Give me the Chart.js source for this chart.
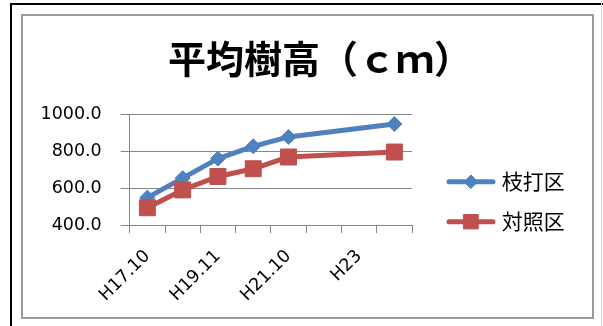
<!DOCTYPE html>
<html>
<head>
<meta charset="utf-8">
<script src="https://cdn.jsdelivr.net/npm/chart.js@4.4.1/dist/chart.umd.min.js"></script>
<style>
  html, body { margin: 0; padding: 0; background: #fff; width: 603px; height: 326px; overflow: hidden; }
  #frame { position: absolute; left: 10px; top: 3px; width: 700px; height: 400px; border: 2px solid #000; }
  #panel { position: absolute; left: 21px; top: 14px; width: 573px; height: 305px; border: 2px solid #9a9a9a; box-sizing: border-box; }
  #edge { position: absolute; left: 601px; top: 0; width: 1px; height: 326px; background: #d4d4d4; }
  #c { position: absolute; left: 0; top: 0; }
</style>
</head>
<body>
<div id="frame"></div>
<div id="panel"></div>
<div id="edge"></div>
<canvas id="c" width="603" height="326" style="width:603px;height:326px"></canvas>
<script>
// Survey dates (category axis; unlabeled slots keep the spacing)
const categories = ['H17.10', '', 'H19.11', '', 'H21.10', '', 'H23', ''];
const seriesNames = ['枝打区', '対照区'];
// Mean tree height (cm)
const prunedPlot  = [549, 655, 761, 828, 879, null, null, 949];
const controlPlot = [494, 591, 664, 706, 770, null, null, 797];
const yTickValues = [400, 600, 800, 1000];
const chartTitle = '平均樹高（ｃｍ）';

const BLUE = '#4F81BD';
const RED = '#C0504D';
const AXIS = '#868686';
const LABEL_FONT = { family: 'DejaVu Sans', size: 17.5 };
const KEY_FONT = '21px "Noto Sans CJK JP"';

const datasets = [
  {
    label: seriesNames[0], data: prunedPlot, order: 1,
    borderColor: BLUE, backgroundColor: BLUE, borderWidth: 5,
    pointStyle: 'rectRot', pointRadius: 7.5, pointBackgroundColor: BLUE, pointBorderColor: BLUE, pointBorderWidth: 1
  },
  {
    label: seriesNames[1], data: controlPlot, order: 0,
    borderColor: RED, backgroundColor: RED, borderWidth: 5,
    pointStyle: 'rect', pointRadius: 11.3, pointBackgroundColor: RED, pointBorderColor: RED, pointBorderWidth: 1
  }
];

// Series key to the right of the plot: line segment, marker, name
const seriesKey = {
  id: 'seriesKey',
  afterDraw(chart, args, opts) {
    const ctx = chart.ctx;
    const area = chart.chartArea;
    chart.data.datasets.forEach((ds, i) => {
      const x = area.right + opts.left;
      const y = area.top + opts.top + i * opts.spacing;
      ctx.save();
      ctx.strokeStyle = ds.borderColor;
      ctx.lineWidth = ds.borderWidth;
      ctx.lineCap = 'round';
      ctx.beginPath();
      ctx.moveTo(x, y);
      ctx.lineTo(x + opts.lineLength, y);
      ctx.stroke();
      ctx.fillStyle = ds.pointBackgroundColor;
      ctx.strokeStyle = ds.pointBorderColor;
      ctx.lineWidth = 1;
      Chart.helpers.drawPoint(ctx, { pointStyle: ds.pointStyle, radius: ds.pointRadius * 0.9, rotation: 0, borderWidth: 1 },
        x + opts.lineLength / 2, y);
      ctx.fillStyle = '#000';
      ctx.font = KEY_FONT;
      ctx.textAlign = 'left';
      ctx.textBaseline = 'middle';
      ctx.fillText(ds.label, x + opts.lineLength + opts.gap, y - 1);
      ctx.restore();
    });
  }
};

// Center the title over the whole panel rather than over the plot column
const titleSpan = {
  id: 'titleSpan',
  afterLayout(chart, args, opts) {
    const t = chart.titleBlock;
    if (!t) return;
    t.left = opts.center - opts.half;
    t.right = opts.center + opts.half;
    t.width = opts.half * 2;
  }
};

new Chart(document.getElementById('c'), {
  type: 'line',
  data: { labels: categories, datasets: datasets },
  plugins: [seriesKey, titleSpan],
  options: {
    responsive: false,
    animation: false,
    devicePixelRatio: 1,
    spanGaps: true,
    elements: { line: { tension: 0, borderJoinStyle: 'round', borderCapStyle: 'round' } },
    layout: { padding: { left: 21.5, right: 191, top: 0, bottom: 7.4 } },
    plugins: {
      tooltip: { enabled: false },
      legend: { display: false },
      seriesKey: { left: 37, top: 67, spacing: 40, lineLength: 44, gap: 8.7 },
      titleSpan: { center: 320, half: 244 },
      title: {
        display: true,
        text: chartTitle,
        color: '#000',
        font: { family: 'Noto Sans CJK JP', size: 38, weight: 'bold' },
        padding: { top: 35.7, bottom: 33.4 }
      }
    },
    scales: {
      x: {
        type: 'category',
        offset: true,
        grid: { offset: true, drawOnChartArea: false, drawTicks: true, tickLength: 8, color: AXIS, lineWidth: 1 },
        border: { display: true, color: AXIS, width: 1 },
        ticks: { autoSkip: false, minRotation: 45, maxRotation: 45, padding: 13, color: '#000', font: LABEL_FONT }
      },
      y: {
        min: yTickValues[0],
        max: yTickValues[yTickValues.length - 1],
        afterBuildTicks(scale) { scale.ticks = yTickValues.map(v => ({ value: v })); },
        grid: { color: AXIS, lineWidth: 1, tickLength: 9, drawTicks: true },
        border: { display: true, color: AXIS, width: 1 },
        ticks: { padding: 19, color: '#000', font: LABEL_FONT, callback: v => Number(v).toFixed(1) }
      }
    }
  }
});
</script>
</body>
</html>
